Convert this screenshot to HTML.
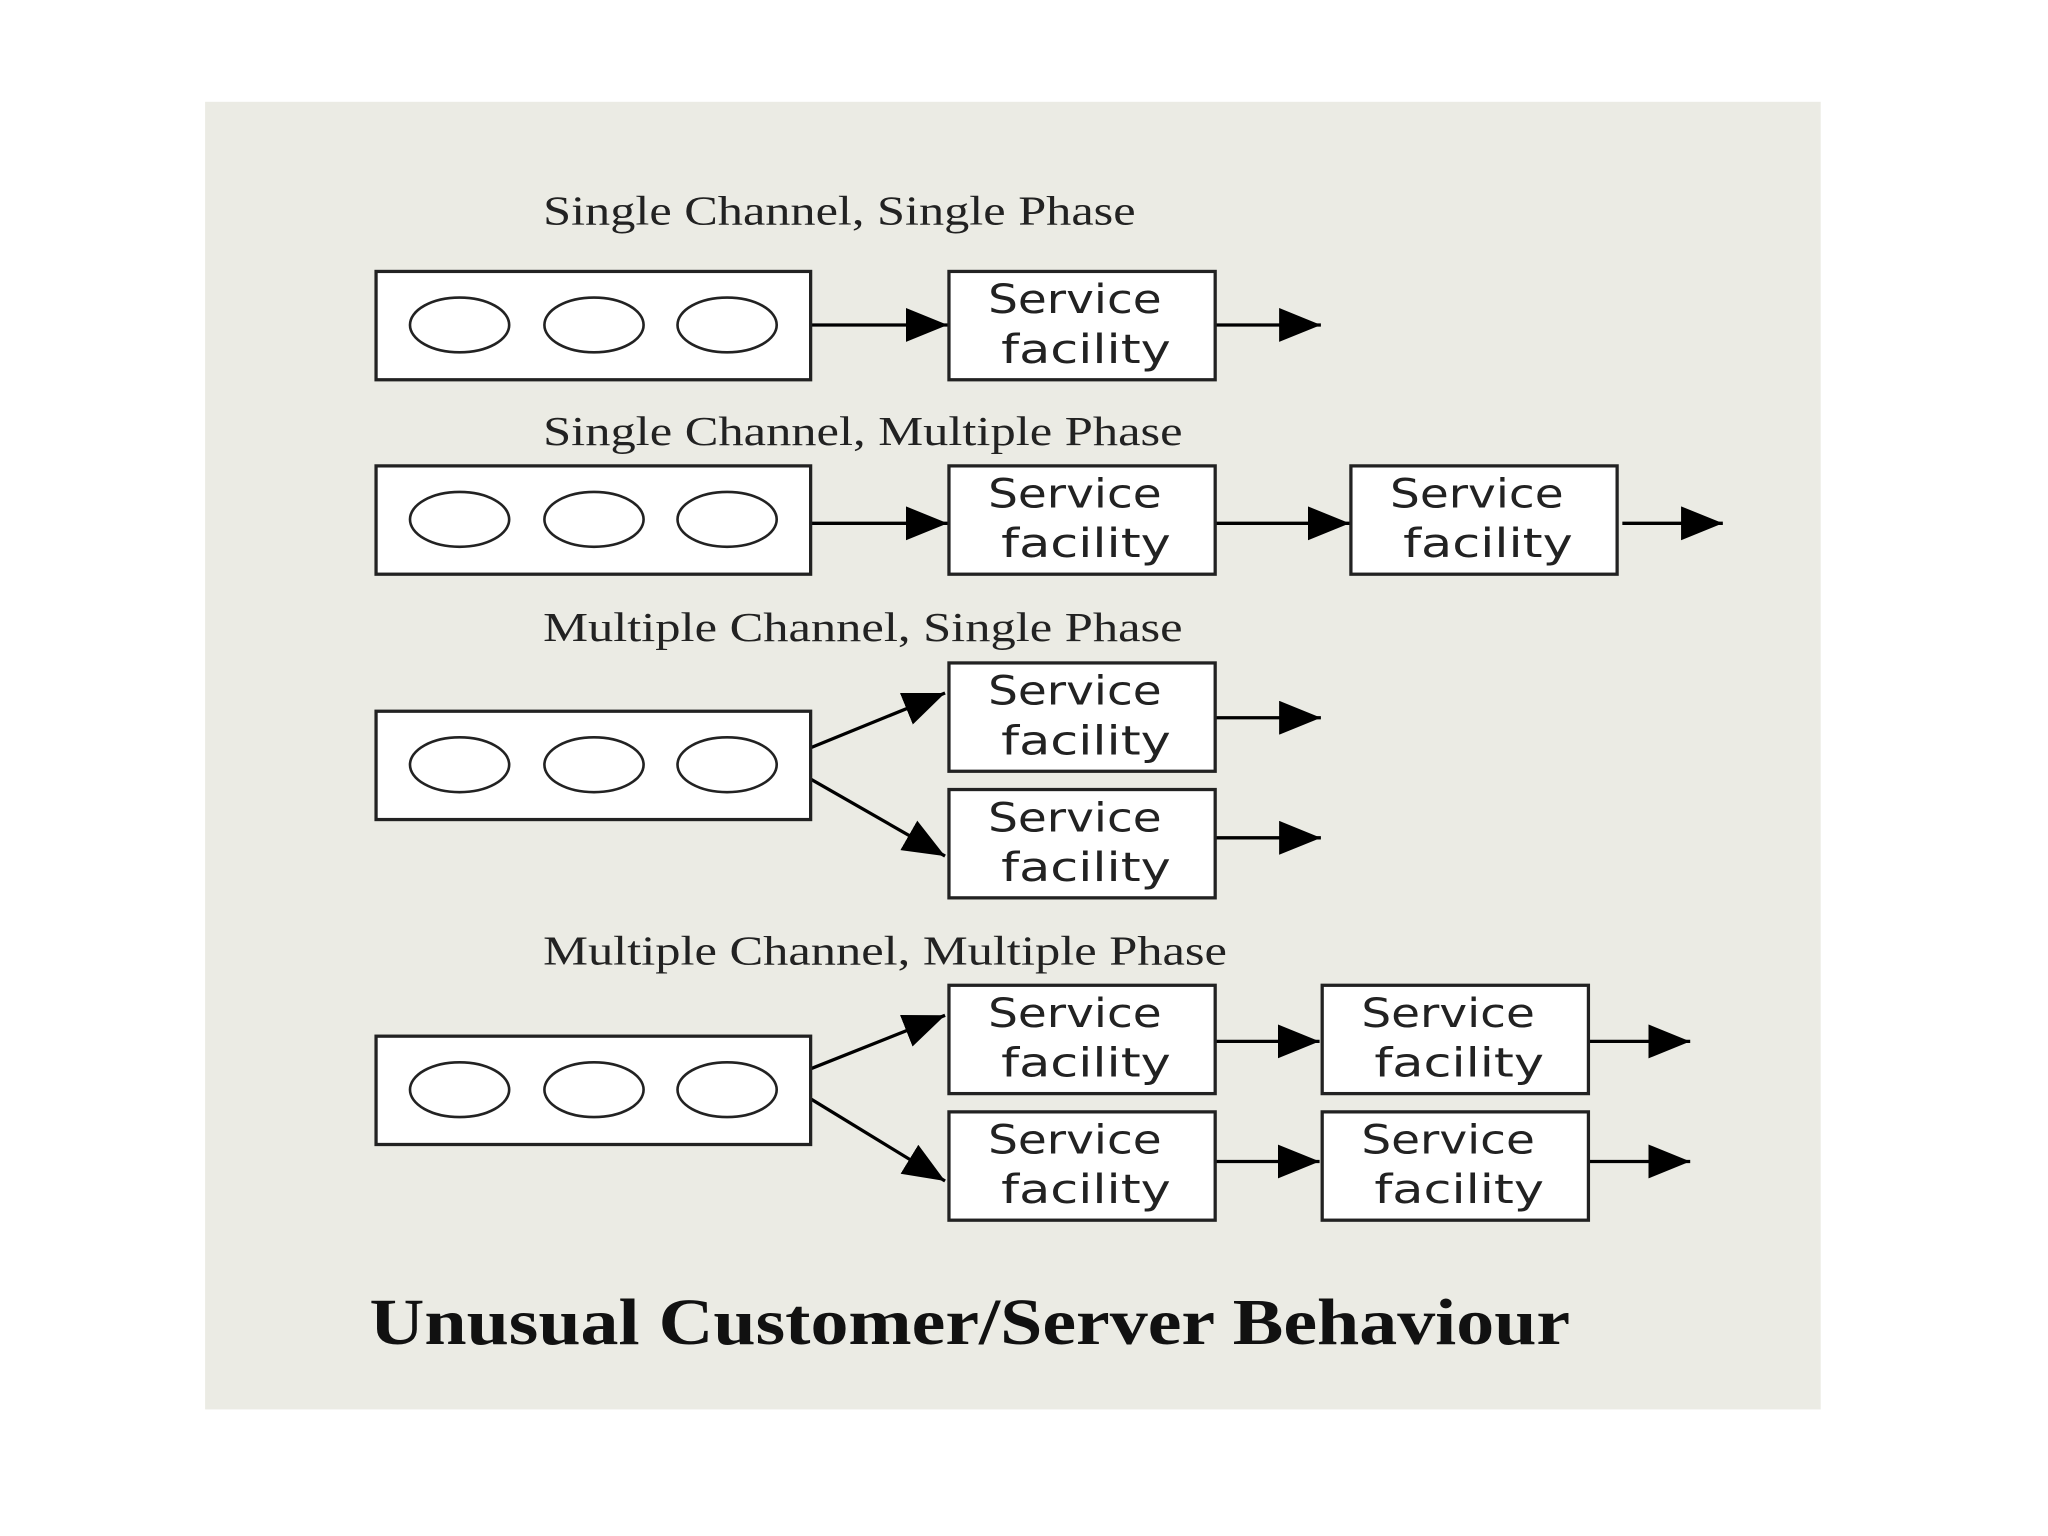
<!DOCTYPE html>
<html><head><meta charset="utf-8"><style>
html,body{margin:0;padding:0;background:#fff;}
svg{display:block;}
.t{font-family:"Liberation Serif",serif;font-size:32px;fill:#222;}
.s{font-family:"DejaVu Sans","Liberation Sans",sans-serif;font-size:31px;fill:#222;}
</style></head><body>
<svg width="2048" height="1536" viewBox="0 0 1569 1177" xmlns="http://www.w3.org/2000/svg">
<defs>
<marker id="b" viewBox="0 0 10 10" refX="10" refY="5" markerWidth="32" markerHeight="26" orient="auto" markerUnits="userSpaceOnUse" preserveAspectRatio="none">
<path d="M0,0 L10,5 L0,10 z" fill="#000"/>
</marker>
<g id="q">
<rect x="0" y="0" width="333" height="83" fill="#fff" stroke="#222" stroke-width="2.5"/>
<ellipse cx="64" cy="41" rx="38" ry="21" fill="none" stroke="#222" stroke-width="2"/>
<ellipse cx="167" cy="41" rx="38" ry="21" fill="none" stroke="#222" stroke-width="2"/>
<ellipse cx="269" cy="41" rx="38" ry="21" fill="none" stroke="#222" stroke-width="2"/>
</g>
<g id="f">
<rect x="0" y="0" width="204" height="83" fill="#fff" stroke="#222" stroke-width="2.5"/>
<text class="s" x="30" y="32" textLength="133" lengthAdjust="spacingAndGlyphs">Service</text>
<text class="s" x="40" y="70" textLength="130" lengthAdjust="spacingAndGlyphs">facility</text>
</g>
</defs>
<rect x="157" y="78" width="1238" height="1002" fill="#ebebe4"/>
<g stroke="#000" stroke-width="2.5" fill="none">
<line x1="621" y1="249" x2="726" y2="249" marker-end="url(#b)"/>
<line x1="931" y1="249" x2="1012" y2="249" marker-end="url(#b)"/>
<line x1="621" y1="401" x2="726" y2="401" marker-end="url(#b)"/>
<line x1="931" y1="401" x2="1034" y2="401" marker-end="url(#b)"/>
<line x1="1243" y1="401" x2="1320" y2="401" marker-end="url(#b)"/>
<line x1="621" y1="573" x2="724" y2="531" marker-end="url(#b)"/>
<line x1="621" y1="597" x2="724" y2="656" marker-end="url(#b)"/>
<line x1="931" y1="550" x2="1012" y2="550" marker-end="url(#b)"/>
<line x1="931" y1="642" x2="1012" y2="642" marker-end="url(#b)"/>
<line x1="621" y1="819" x2="724" y2="778" marker-end="url(#b)"/>
<line x1="621" y1="842" x2="724" y2="905" marker-end="url(#b)"/>
<line x1="931" y1="798" x2="1011" y2="798" marker-end="url(#b)"/>
<line x1="931" y1="890" x2="1011" y2="890" marker-end="url(#b)"/>
<line x1="1216" y1="798" x2="1295" y2="798" marker-end="url(#b)"/>
<line x1="1216" y1="890" x2="1295" y2="890" marker-end="url(#b)"/>
</g>
<text class="t" x="416" y="172" textLength="454" lengthAdjust="spacingAndGlyphs">Single Channel, Single Phase</text>
<use href="#q" x="288" y="208"/>
<use href="#f" x="727" y="208"/>
<text class="t" x="416" y="341" textLength="490" lengthAdjust="spacingAndGlyphs">Single Channel, Multiple Phase</text>
<use href="#q" x="288" y="357"/>
<use href="#f" x="727" y="357"/>
<use href="#f" x="1035" y="357"/>
<text class="t" x="416" y="491" textLength="490" lengthAdjust="spacingAndGlyphs">Multiple Channel, Single Phase</text>
<use href="#q" x="288" y="545"/>
<use href="#f" x="727" y="508"/>
<use href="#f" x="727" y="605"/>
<text class="t" x="416" y="739" textLength="524" lengthAdjust="spacingAndGlyphs">Multiple Channel, Multiple Phase</text>
<use href="#q" x="288" y="794"/>
<use href="#f" x="727" y="755"/>
<use href="#f" x="727" y="852"/>
<use href="#f" x="1013" y="755"/>
<use href="#f" x="1013" y="852"/>
<text x="283" y="1030" textLength="920" lengthAdjust="spacingAndGlyphs" style="font-family:'Liberation Serif',serif;font-weight:bold;font-size:50px;fill:#111;">Unusual Customer/Server Behaviour</text>
</svg>
</body></html>
